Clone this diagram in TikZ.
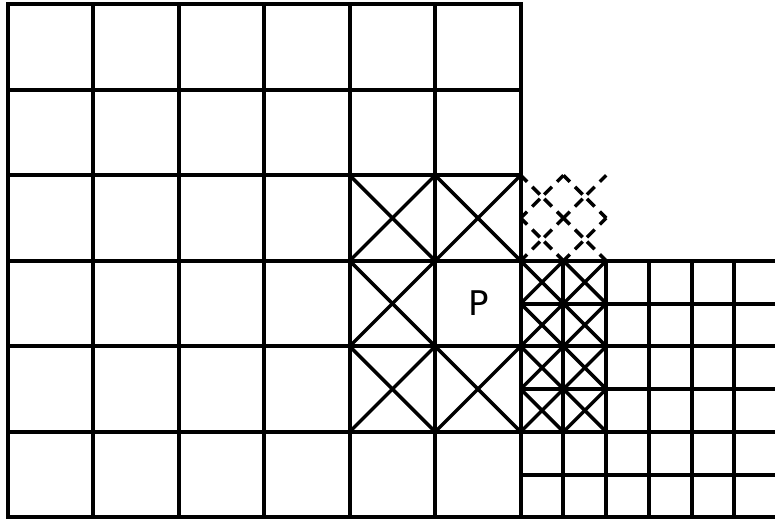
\documentclass[tikz,border=0pt]{standalone}
\usepackage{fontspec}
\setmainfont{DejaVu Sans}
\begin{document}
\begin{tikzpicture}[x=1pt,y=-1pt,
  gridline/.style={line width=4pt,line cap=rect},
  diag/.style={line width=3.5pt},
  dashdiag/.style={line width=3.5pt}]
\useasboundingbox (0,0) rectangle (775,519);
\clip (0,0) rectangle (775,519);
\def\S{85.5}\def\H{42.75}
% big grid
\foreach \i in {0,...,6}{
  \draw[gridline] ({7.7+\i*\S},4.3) -- ({7.7+\i*\S},517.3);
  \draw[gridline] (7.7,{4.3+\i*\S}) -- (520.7,{4.3+\i*\S});
}
% small grid
\foreach \j in {1,...,6}{
  \draw[gridline] ({520.7+\j*\H},260.8) -- ({520.7+\j*\H},517.3);
}
\foreach \k in {0,...,6}{
  \draw[gridline] (520.7,{260.8+\k*\H}) -- (790,{260.8+\k*\H});
}
% big crosses
\foreach \i/\j in {4/2,5/2,4/3,4/4,5/4}{
  \draw[diag] ({7.7+\i*\S},{4.3+\j*\S}) -- ({7.7+(\i+1)*\S},{4.3+(\j+1)*\S});
  \draw[diag] ({7.7+\i*\S},{4.3+(\j+1)*\S}) -- ({7.7+(\i+1)*\S},{4.3+\j*\S});
}
% small crosses
\foreach \i in {0,1}{
  \foreach \k in {0,...,3}{
    \draw[diag] ({520.7+\i*\H},{260.8+\k*\H}) -- ({520.7+(\i+1)*\H},{260.8+(\k+1)*\H});
    \draw[diag] ({520.7+\i*\H},{260.8+(\k+1)*\H}) -- ({520.7+(\i+1)*\H},{260.8+\k*\H});
  }
}
% dashed crosses
\foreach \i in {0,1}{
  \foreach \k in {0,1}{
    \foreach \f/\g in {0/0.15,0.27/0.45,0.55/0.73,0.85/1}{
      \draw[dashdiag] ({520.7+(\i+\f)*\H},{175.3+(\k+\f)*\H}) -- ({520.7+(\i+\g)*\H},{175.3+(\k+\g)*\H});
      \draw[dashdiag] ({520.7+(\i+\f)*\H},{175.3+(\k+1-\f)*\H}) -- ({520.7+(\i+\g)*\H},{175.3+(\k+1-\g)*\H});
    }
  }
}
\node[font=\fontsize{34}{40}\selectfont] (p) at (478.5,303.5) {P};
\end{tikzpicture}
\end{document}
